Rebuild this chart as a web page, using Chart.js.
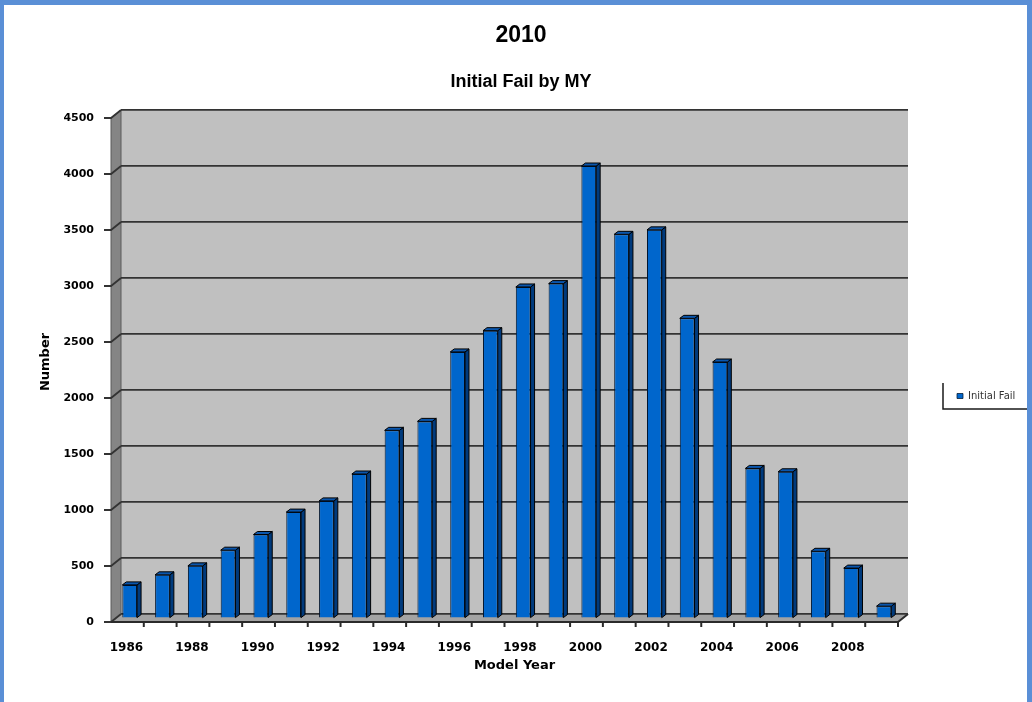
<!DOCTYPE html>
<html>
<head>
<meta charset="utf-8">
<title>2010 – Initial Fail by MY</title>
<script src="https://cdn.jsdelivr.net/npm/chart.js@4/dist/chart.umd.min.js"></script>
<style>
  html, body { margin: 0; padding: 0; background: #ffffff; }
  #wrap { width: 1032px; height: 702px; position: relative; }
  canvas { display: block; }
</style>
</head>
<body>
<div id="wrap"><canvas id="chart" width="1032" height="702"></canvas></div>
<script>
// ---- data ----
const years = ['1986', '1987', '1988', '1989', '1990', '1991', '1992', '1993',
               '1994', '1995', '1996', '1997', '1998', '1999', '2000', '2001',
               '2002', '2003', '2004', '2005', '2006', '2007', '2008', '2009'];
const initialFail = [300, 390, 470, 610, 750, 950, 1050, 1290,
                     1680, 1760, 2380, 2570, 2960, 2990, 4040, 3430,
                     3470, 2680, 2290, 1340, 1310, 600, 450, 110];
const yMax = 4500;
const yStep = 500;
const seriesName = 'Initial Fail';
const chartTitle = '2010';
const chartSubtitle = 'Initial Fail by MY';
const xTitle = 'Model Year';
const yTitle = 'Number';

// ---- 3-D look ----
const DEPTH_X = 10;          // wall / floor depth, horizontal
const DEPTH_Y = 8;           // wall / floor depth, vertical
const BAR_SHIFT_X = -7.7;    // bars stand part-way into the floor
const BAR_SHIFT_Y = 4.5;
const BAR_DX = 4;            // bar side / top face depth
const BAR_DY = 3;
const WALL_COLOR = '#c0c0c0';
const SIDE_WALL_COLOR = '#858585';
const FLOOR_COLOR = '#a3a3a3';
const GRID_COLOR = '#333333';
const BAR_FRONT = '#0066cc';
const BAR_SIDE = '#003a7c';
const BAR_TOP = '#0a56ad';
const FRAME_COLOR = '#5a8fd6';
const LEGEND_BOX = { left: 943, top: 383, width: 86, height: 26 };
const RIGHT_SPACE = 124;     // room kept free for the legend

function poly(ctx, pts) {
  ctx.beginPath();
  ctx.moveTo(pts[0][0], pts[0][1]);
  for (let i = 1; i < pts.length; i++) ctx.lineTo(pts[i][0], pts[i][1]);
  ctx.closePath();
  ctx.fill();
  ctx.stroke();
}

const excel3d = {
  id: 'excel3d',
  afterLayout(chart) {
    const lg = chart.legend;
    if (!lg) return;
    lg.left = LEGEND_BOX.left;
    lg.top = LEGEND_BOX.top;
    lg.width = LEGEND_BOX.width;
    lg.height = LEGEND_BOX.height;
    lg.right = lg.left + lg.width;
    lg.bottom = lg.top + lg.height;
  },
  beforeDraw(chart) {
    const { ctx, chartArea: a, scales: { x, y } } = chart;
    ctx.save();
    // back wall
    ctx.fillStyle = WALL_COLOR;
    ctx.fillRect(a.left, a.top, a.right - a.left, a.bottom - a.top);
    // side wall
    ctx.fillStyle = SIDE_WALL_COLOR;
    ctx.strokeStyle = '#5a5a5a';
    ctx.lineWidth = 1;
    poly(ctx, [[a.left, a.top], [a.left - DEPTH_X, a.top + DEPTH_Y],
               [a.left - DEPTH_X, a.bottom + DEPTH_Y], [a.left, a.bottom]]);
    // floor
    ctx.fillStyle = FLOOR_COLOR;
    ctx.strokeStyle = FLOOR_COLOR;
    poly(ctx, [[a.left, a.bottom], [a.right, a.bottom],
               [a.right - DEPTH_X, a.bottom + DEPTH_Y], [a.left - DEPTH_X, a.bottom + DEPTH_Y]]);
    // grid lines carried across the side wall, plus value tick marks
    ctx.strokeStyle = GRID_COLOR;
    ctx.lineWidth = 1.8;
    y.ticks.forEach(t => {
      const py = y.getPixelForValue(t.value);
      ctx.beginPath();
      ctx.moveTo(a.left, py);
      ctx.lineTo(a.left - DEPTH_X, py + DEPTH_Y);
      ctx.lineTo(a.left - DEPTH_X - 7, py + DEPTH_Y);
      ctx.stroke();
    });
    // floor front edge and right end
    ctx.strokeStyle = '#2a2a2a';
    ctx.lineWidth = 2;
    ctx.beginPath();
    ctx.moveTo(a.left - DEPTH_X, a.bottom + DEPTH_Y);
    ctx.lineTo(a.right - DEPTH_X, a.bottom + DEPTH_Y);
    ctx.lineTo(a.right, a.bottom);
    ctx.stroke();
    // category tick marks on the front edge
    const step = x.getPixelForValue(1) - x.getPixelForValue(0);
    for (let i = 1; i <= years.length; i++) {
      const px = x.getPixelForValue(i - 1) + step / 2 - DEPTH_X;
      ctx.beginPath();
      ctx.moveTo(px, a.bottom + DEPTH_Y);
      ctx.lineTo(px, a.bottom + DEPTH_Y + 5);
      ctx.stroke();
    }
    ctx.restore();
  },
  beforeDatasetsDraw(chart) {
    chart.ctx.save();
    chart.ctx.translate(BAR_SHIFT_X, BAR_SHIFT_Y);
  },
  afterDatasetsDraw(chart) {
    const ctx = chart.ctx;
    ctx.strokeStyle = '#000000';
    ctx.lineWidth = 1;
    chart.getDatasetMeta(0).data.forEach(bar => {
      const { x, y, base, width } = bar.getProps(['x', 'y', 'base', 'width'], true);
      const l = x - width / 2, r = x + width / 2;
      ctx.fillStyle = BAR_SIDE;
      poly(ctx, [[r, y], [r + BAR_DX, y - BAR_DY], [r + BAR_DX, base - BAR_DY], [r, base]]);
      ctx.fillStyle = BAR_TOP;
      poly(ctx, [[l, y], [l + BAR_DX, y - BAR_DY], [r + BAR_DX, y - BAR_DY], [r, y]]);
    });
    ctx.restore();
  },
  afterDraw(chart) {
    const ctx = chart.ctx;
    ctx.save();
    // legend frame (left and bottom edges)
    ctx.strokeStyle = '#1a1a1a';
    ctx.lineWidth = 1.5;
    ctx.beginPath();
    ctx.moveTo(LEGEND_BOX.left, LEGEND_BOX.top);
    ctx.lineTo(LEGEND_BOX.left, LEGEND_BOX.top + LEGEND_BOX.height);
    ctx.lineTo(LEGEND_BOX.left + LEGEND_BOX.width, LEGEND_BOX.top + LEGEND_BOX.height);
    ctx.stroke();
    // page frame
    ctx.fillStyle = FRAME_COLOR;
    ctx.fillRect(0, 0, chart.width, 5);
    ctx.fillRect(0, 0, 4, chart.height);
    ctx.fillRect(chart.width - 5, 0, 5, chart.height);
    ctx.restore();
  }
};

new Chart(document.getElementById('chart'), {
  type: 'bar',
  data: {
    labels: years,
    datasets: [{
      label: seriesName,
      data: initialFail,
      backgroundColor: BAR_FRONT,
      borderColor: '#00152e',
      borderWidth: { left: 1, right: 1, top: 1, bottom: 0 },
      borderSkipped: false,
      categoryPercentage: 1.0,
      barPercentage: 0.45,
      clip: false
    }]
  },
  options: {
    responsive: false,
    animation: false,
    devicePixelRatio: 1,
    layout: { padding: { left: 10, right: 0, top: 0, bottom: 26 } },
    plugins: {
      title: {
        display: true,
        text: chartTitle,
        color: '#000000',
        font: { family: 'Liberation Sans', size: 23, weight: 'bold' },
        padding: { top: 22, bottom: 0 }
      },
      subtitle: {
        display: true,
        text: chartSubtitle,
        color: '#000000',
        font: { family: 'Liberation Sans', size: 18, weight: 'bold' },
        padding: { top: 21.6, bottom: 17.2 }
      },
      legend: {
        display: true,
        position: 'chartArea',
        align: 'center',
        labels: {
          boxWidth: 6,
          boxHeight: 5,
          padding: 14,
          color: '#333333',
          font: { family: 'DejaVu Sans', size: 10 }
        }
      },
      tooltip: { enabled: false }
    },
    scales: {
      x: {
        offset: true,
        grid: { display: false },
        border: { display: false },
        ticks: {
          autoSkip: false,
          maxRotation: 0,
          padding: 19,
          labelOffset: -11,
          color: '#000000',
          font: { family: 'DejaVu Sans', size: 12, weight: 'bold' },
          callback: function (value, index) { return index % 2 === 0 ? years[index] : ''; }
        },
        title: {
          display: true,
          text: xTitle,
          color: '#000000',
          font: { family: 'DejaVu Sans', size: 13, weight: 'bold' },
          padding: { top: 0, bottom: 3 }
        },
        afterFit: s => { s.height = 62; s.paddingRight = RIGHT_SPACE; }
      },
      y: {
        min: 0,
        max: yMax,
        grid: { color: GRID_COLOR, lineWidth: 1.8, drawTicks: false },
        border: { display: false },
        ticks: {
          stepSize: yStep,
          padding: 27,
          labelOffset: DEPTH_Y,
          color: '#000000',
          font: { family: 'DejaVu Sans', size: 11, weight: 'bold' },
          callback: value => String(value)
        },
        title: {
          display: true,
          text: yTitle,
          color: '#000000',
          font: { family: 'DejaVu Sans', size: 13, weight: 'bold' },
          padding: { top: 28, bottom: 0 }
        },
        afterFit: s => { s.width = 111; }
      }
    }
  },
  plugins: [excel3d]
});
</script>
</body>
</html>
